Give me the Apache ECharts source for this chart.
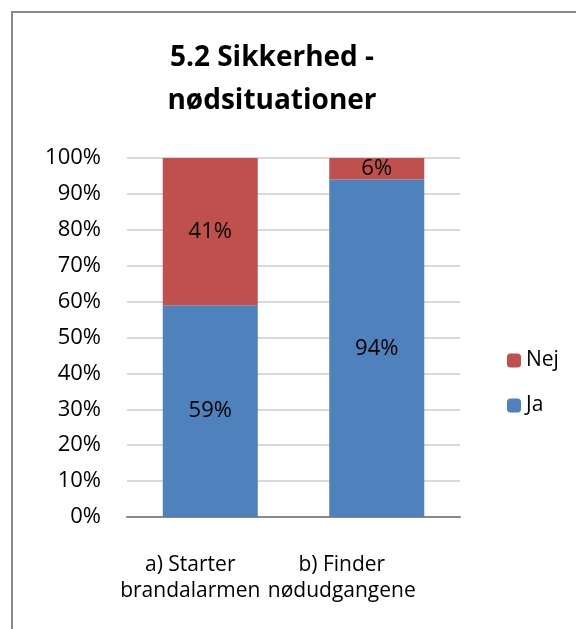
<!DOCTYPE html>
<html>
<head>
<meta charset="utf-8">
<script src="https://cdn.jsdelivr.net/npm/echarts@6/dist/echarts.min.js"></script>
<style>
  html, body { margin: 0; padding: 0; background: #fff; }
  #main { width: 576px; height: 629px; }
</style>
</head>
<body>
<div id="main"></div>
<script>
// data
var categories = ['a) Starter\nbrandalarmen', 'b) Finder\nnødudgangene'];
var jaValues = [59, 94];
var nejValues = [41, 6];
var yTicks = [0, 10, 20, 30, 40, 50, 60, 70, 80, 90, 100];

var font = '"Open Sans", "Noto Sans", sans-serif';
var myChart = echarts.init(document.getElementById('main'));

// labels in the original sit a bit left of the bar centres
var labelShift = [40, 70];

var option = {
    animation: false,
    textStyle: { fontFamily: font },
    graphic: [{
        type: 'rect',
        shape: { x: 12, y: 12, width: 700, height: 700 },
        style: { fill: 'none', stroke: '#8a8a8a', lineWidth: 2 },
        silent: true
    }],
    title: {
        text: '5.2 Sikkerhed -\nnødsituationer',
        left: 267,
        textAlign: 'center',
        top: 32,
        textStyle: {
            fontFamily: font,
            fontSize: 28,
            fontWeight: 'bold',
            color: '#000',
            lineHeight: 43
        }
    },
    legend: {
        orient: 'vertical',
        left: 502,
        top: 345,
        itemWidth: 14,
        itemHeight: 14,
        itemGap: 24,
        data: ['Nej', 'Ja'],
        textStyle: { fontFamily: font, fontSize: 21, color: '#000' }
    },
    grid: { left: 127, right: 116, top: 158, bottom: 112 },
    xAxis: {
        type: 'category',
        data: categories,
        axisTick: { show: false },
        axisLine: { lineStyle: { color: '#888', width: 2 } },
        axisLabel: {
            margin: 35,
            interval: 0,
            formatter: function (value, idx) {
                return value.split('\n').map(function (s) {
                    return '{l' + idx + '|' + s + '}';
                }).join('\n');
            },
            rich: {
                l0: { fontFamily: font, fontSize: 21, color: '#000', lineHeight: 26, padding: [0, labelShift[0], 0, 0] },
                l1: { fontFamily: font, fontSize: 21, color: '#000', lineHeight: 26, padding: [0, labelShift[1], 0, 0] }
            }
        }
    },
    yAxis: {
        type: 'value',
        min: yTicks[0],
        max: yTicks[yTicks.length - 1],
        interval: 10,
        axisLine: { show: false },
        axisTick: { show: false },
        splitLine: { lineStyle: { color: '#d9d9d9', width: 2 } },
        axisLabel: {
            margin: 26,
            fontFamily: font,
            fontSize: 22,
            color: '#000',
            formatter: '{value}%'
        }
    },
    series: [{
        name: 'Ja',
        type: 'bar',
        stack: 'total',
        barWidth: 95,
        data: jaValues,
        itemStyle: { color: '#4f81bd' },
        label: {
            show: true,
            position: 'inside',
            formatter: '{c}%',
            fontFamily: font,
            fontSize: 22,
            color: '#000'
        }
    }, {
        name: 'Nej',
        type: 'bar',
        stack: 'total',
        barWidth: 95,
        data: nejValues,
        itemStyle: { color: '#c0504d' },
        label: {
            show: true,
            position: 'inside',
            formatter: '{c}%',
            fontFamily: font,
            fontSize: 22,
            color: '#000'
        }
    }]
};

myChart.setOption(option);
</script>
</body>
</html>
